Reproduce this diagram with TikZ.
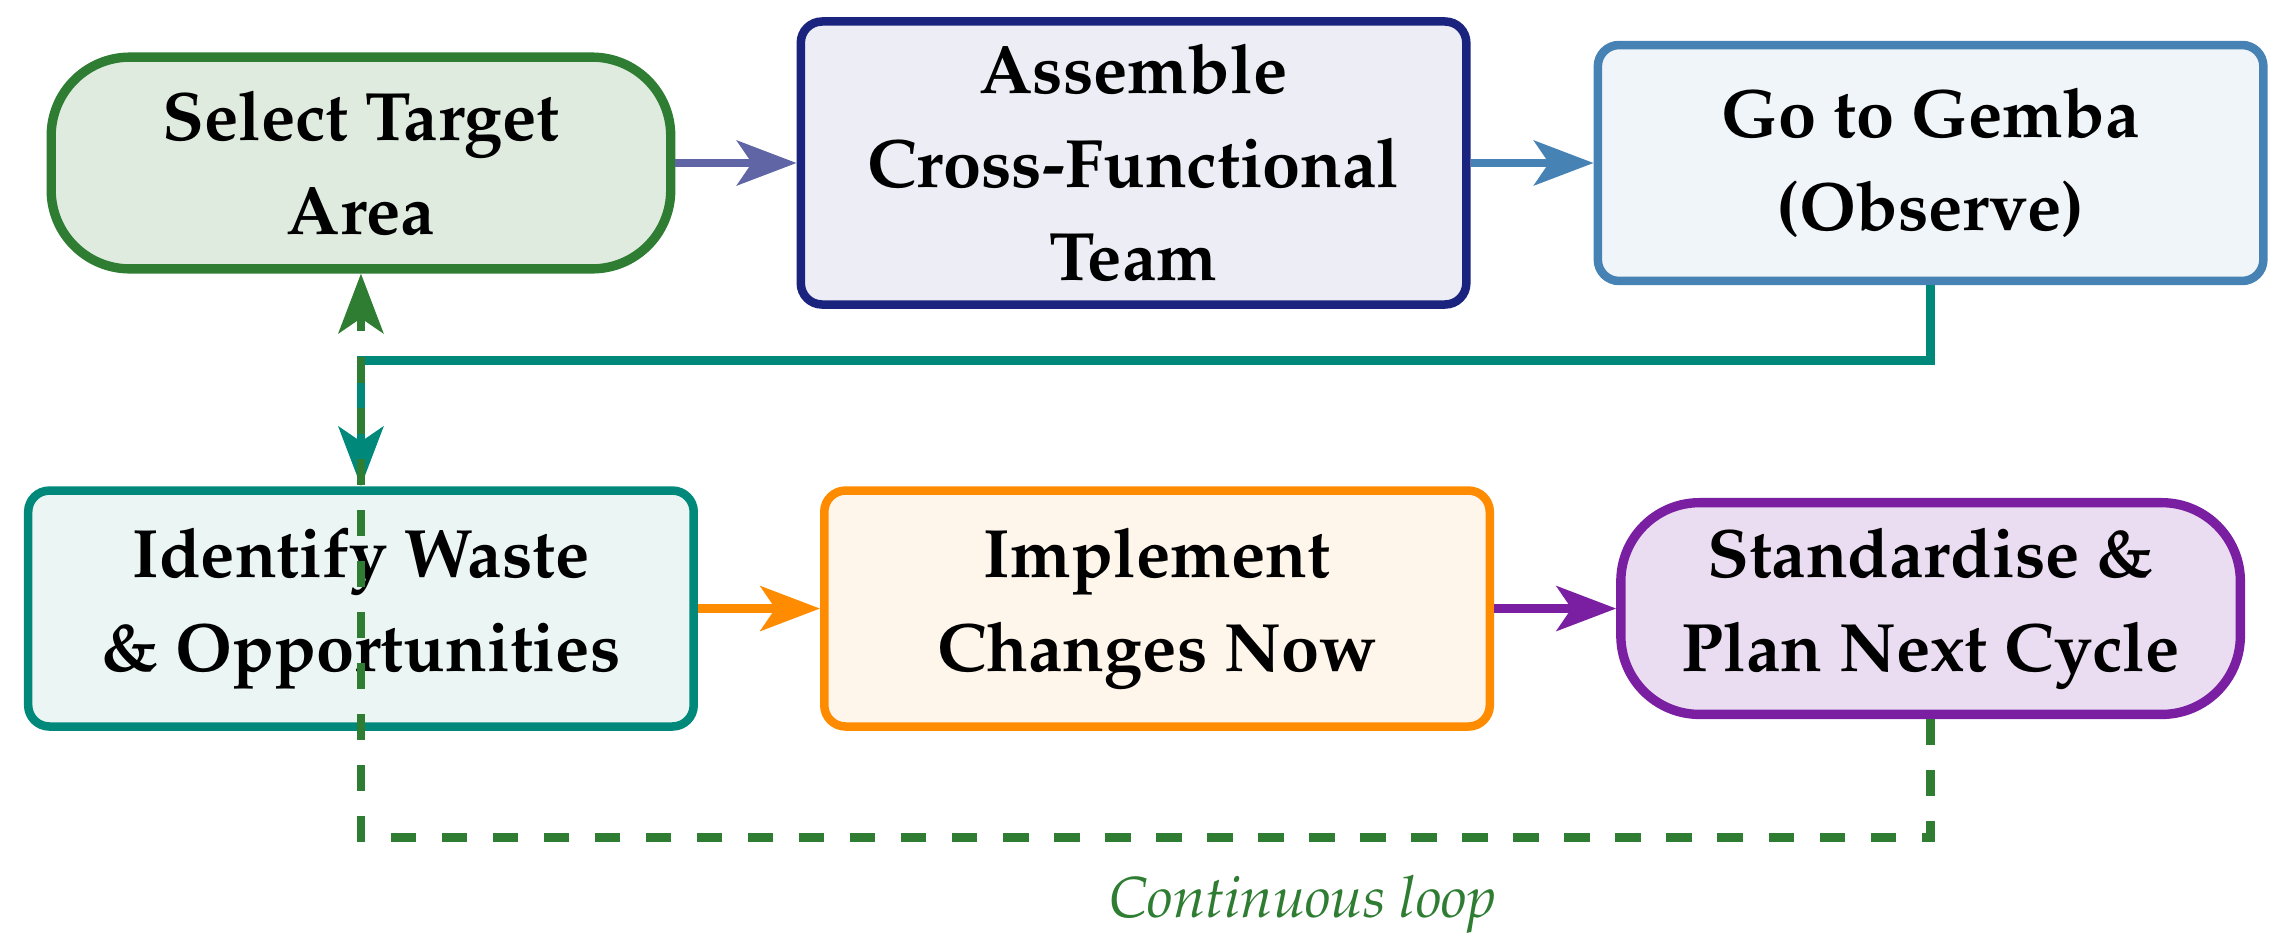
\documentclass[tikz,border=0pt]{standalone}
\usepackage[T1]{fontenc}
\usepackage{mathpazo}
\usetikzlibrary{arrows.meta}
\definecolor{selgreen}{HTML}{2E7D32}
\definecolor{asmnavy}{HTML}{1A237E}
\definecolor{gemblue}{HTML}{4682B4}
\definecolor{ideteal}{HTML}{00897B}
\definecolor{imporange}{HTML}{FF8C00}
\definecolor{stdpurple}{HTML}{7B1FA2}
\begin{document}
\begin{tikzpicture}[
    >={Stealth[length=14pt,width=10.5pt,inset=3.5pt]},
    box/.style={draw=#1, fill=#1!8, line width=2pt, rounded corners=5pt,
      align=center, minimum width=5.5cm, minimum height=1.95cm},
    pill/.style={draw=#1, fill=#1!15, line width=2.2pt, rounded corners=0.65cm,
      align=center, minimum width=5.12cm, minimum height=1.75cm},
    link/.style={line width=2pt, #1}
  ]
  \useasboundingbox (0,0) rectangle (18.826,-7.785);
  \fontsize{16.1}{22}\selectfont\bfseries
  \node[pill=selgreen]  (S) at (2.983,-1.347)  {Select Target\\Area};
  \node[box=asmnavy]    (A) at (9.368,-1.347)  {Assemble\\Cross-Functional\\Team};
  \node[box=gemblue]    (G) at (15.955,-1.347) {Go to Gemba\\(Observe)};
  \node[box=ideteal]    (I) at (2.983,-5.029)  {Identify Waste\\\& Opportunities};
  \node[box=imporange]  (M) at (9.562,-5.029)  {Implement\\Changes Now};
  \node[pill=stdpurple] (P) at (15.955,-5.029) {Standardise \&\\Plan Next Cycle};

  % top row, then down, then bottom row
  \draw [->, link=asmnavy!70] (S) -- (A);
  \draw [->, link=gemblue]    (A) -- (G);
  \draw [->, link=ideteal]    (G.south) -- ++(0,-0.62) -| (I.north);
  \draw [->, link=imporange]  (I) -- (M);
  \draw [->, link=stdpurple]  (M) -- (P);

  % back to the start
  \draw [->, link=selgreen, dash pattern=on 6pt off 6pt]
    (P.south) -- ++(0,-0.98) -| node[below, pos=0.2, yshift=-2.5pt, font=\normalfont\fontsize{13.6}{16}\selectfont\itshape] {Continuous loop} (S.south);
\end{tikzpicture}
\end{document}
